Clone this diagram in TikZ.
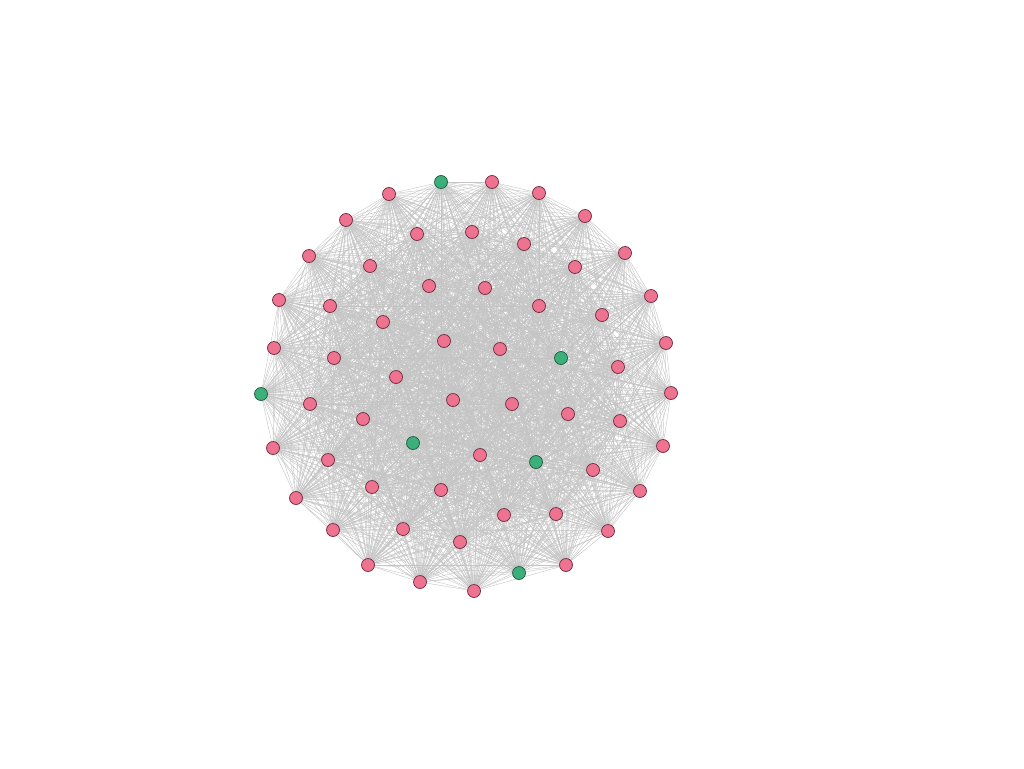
\documentclass[tikz,border=0pt]{standalone}
\usetikzlibrary{backgrounds}
\definecolor{pinkfill}{HTML}{EE7390}
\definecolor{pinkdraw}{HTML}{6E2A3C}
\definecolor{greenfill}{HTML}{3CAF7A}
\definecolor{greendraw}{HTML}{1F5A3E}
\definecolor{edgegray}{HTML}{C4C4C4}
\tikzset{
  vpink/.style={circle,draw=pinkdraw,fill=pinkfill,line width=0.7pt,minimum size=13pt,inner sep=0pt},
  vgreen/.style={circle,draw=greendraw,fill=greenfill,line width=0.7pt,minimum size=13pt,inner sep=0pt},
  edgeline/.style={draw=edgegray,line width=0.4pt}
}
\begin{document}
\begin{tikzpicture}[x=1pt,y=-1pt]
\useasboundingbox (0,0) rectangle (1024,768);
\foreach \n/\x/\y/\s in {
1/441/182/vgreen, 2/492/182/vpink, 3/539/193/vpink, 4/585/216/vpink, 5/625/253/vpink,
6/651/296/vpink, 7/666/343/vpink, 8/671/393/vpink, 9/663/446/vpink, 10/640/491/vpink,
11/608/531/vpink, 12/566/565/vpink, 13/519/573/vgreen, 14/474/591/vpink, 15/420/582/vpink,
16/368/565/vpink, 17/333/530/vpink, 18/296/498/vpink, 19/273/448/vpink, 20/261/394/vgreen,
21/274/348/vpink, 22/279/300/vpink, 23/309/256/vpink, 24/346/220/vpink, 25/389/194/vpink,
26/417/234/vpink, 27/472/232/vpink, 28/524/244/vpink, 29/575/267/vpink, 30/602/315/vpink,
31/618/367/vpink, 32/620/421/vpink, 33/593/470/vpink, 34/556/514/vpink, 35/504/515/vpink,
36/460/542/vpink, 37/403/529/vpink, 38/372/487/vpink, 39/328/460/vpink, 40/310/404/vpink,
41/334/358/vpink, 42/330/306/vpink, 43/370/266/vpink, 44/429/286/vpink, 45/485/288/vpink,
46/539/306/vpink, 47/561/358/vgreen, 48/568/414/vpink, 49/536/462/vgreen, 50/480/455/vpink,
51/441/490/vpink, 52/413/443/vgreen, 53/363/419/vpink, 54/396/377/vpink, 55/383/322/vpink,
56/444/341/vpink, 57/500/349/vpink, 58/453/400/vpink, 59/512/404/vpink}
  \node[\s] (n\n) at (\x,\y) {};
\begin{pgfonlayer}{background}
\foreach \i in {1,...,58}{
  \pgfmathtruncatemacro\k{\i+1}
  \foreach \j in {\k,...,59}{
    \draw[edgeline] (n\i.center) -- (n\j.center);
  }
}
\end{pgfonlayer}
\end{tikzpicture}
\end{document}
